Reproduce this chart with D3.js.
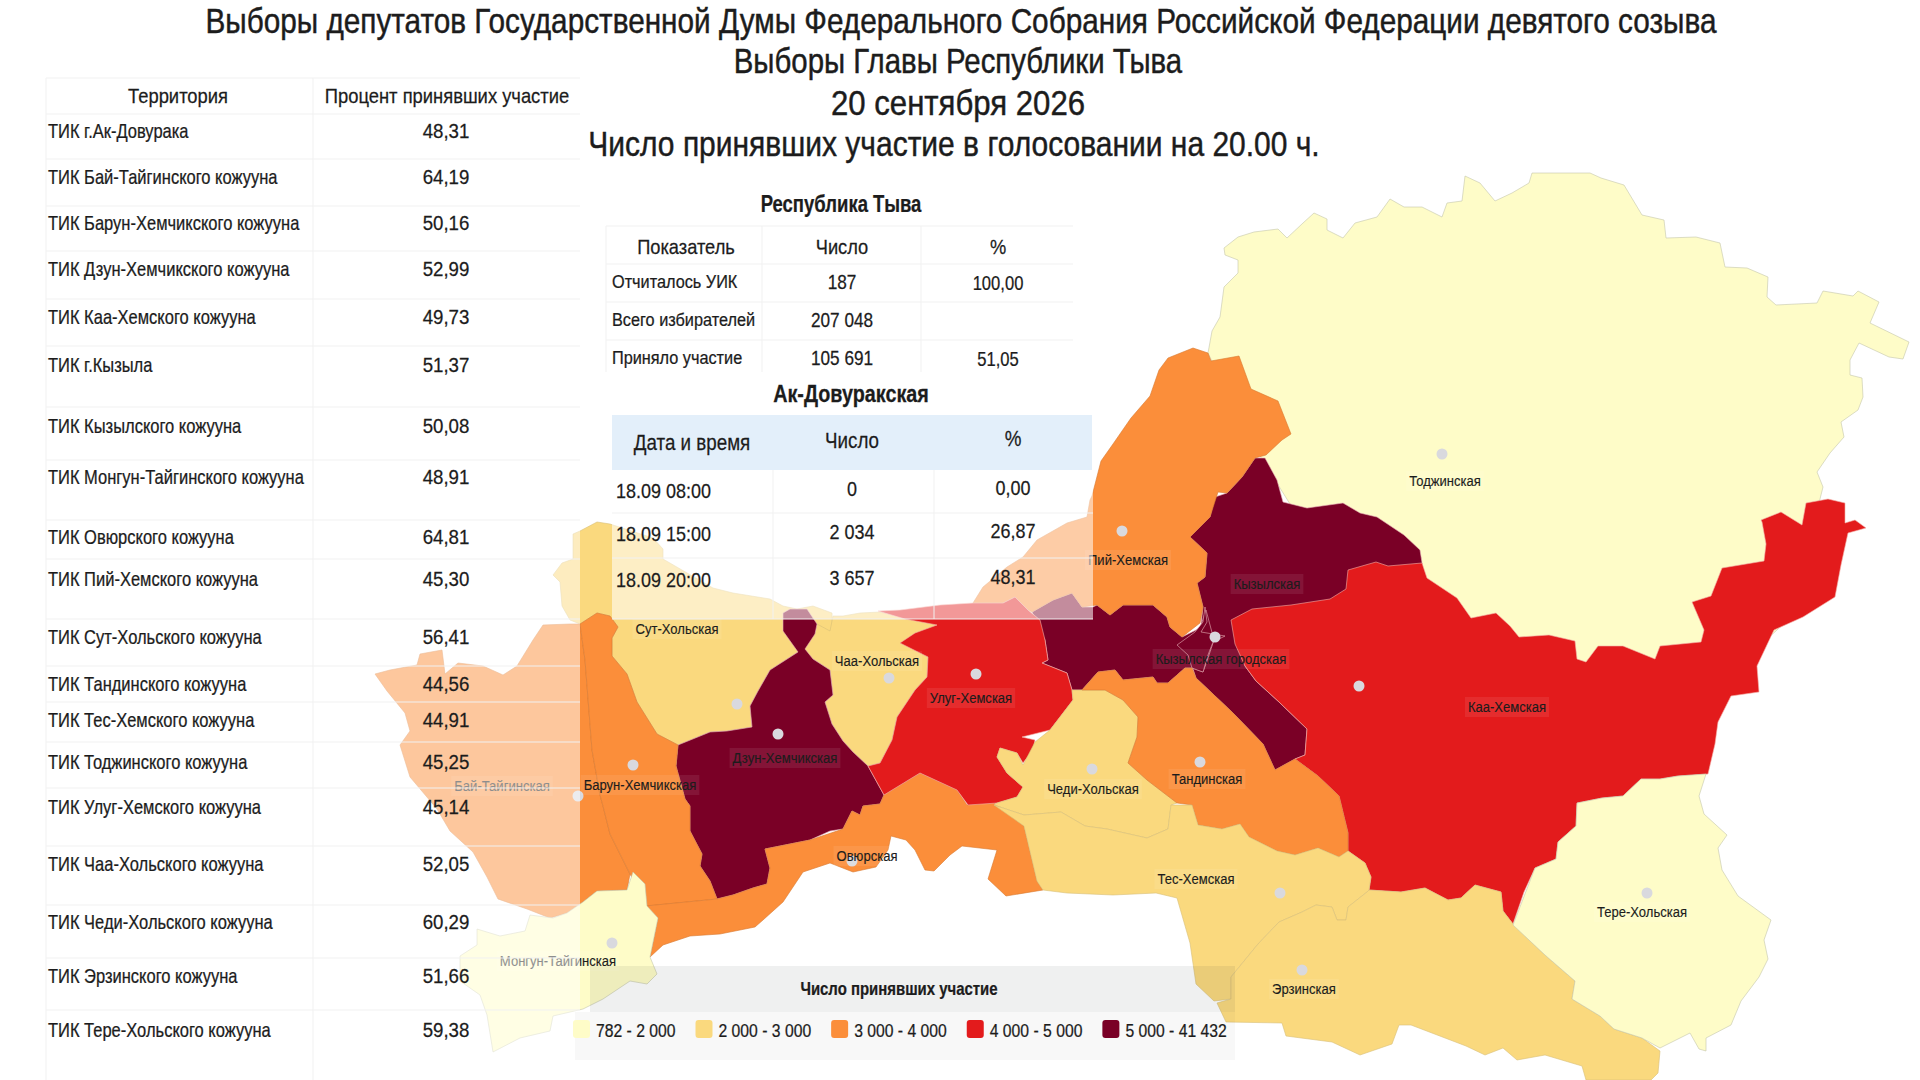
<!DOCTYPE html>
<html lang="ru">
<head>
<meta charset="utf-8">
<title>Выборы Главы Республики Тыва</title>
<script src="https://cdn.jsdelivr.net/npm/d3@7"></script>
<style>
    html, body { margin: 0; padding: 0; background: #fff; }
    svg { display: block; }
    text { font-family: "Liberation Sans", Arial, sans-serif; fill: #1c1c1c; stroke: #1c1c1c; stroke-width: 0.25; }
    .titles text { stroke-width: 0.45; }
    .map text { stroke-width: 0.15; }
</style>
</head>
<body>
<svg id="chart" width="1920" height="1080"></svg>
<script>
// ---- data ----
const titleLines = [
    "Выборы депутатов Государственной Думы Федерального Собрания Российской Федерации девятого созыва",
    "Выборы Главы Республики Тыва",
    "20 сентября 2026",
    "Число принявших участие в голосовании на 20.00 ч."
];

const territories = [
    "ТИК г.Ак-Довурака", "ТИК Бай-Тайгинского кожууна", "ТИК Барун-Хемчикского кожууна",
    "ТИК Дзун-Хемчикского кожууна", "ТИК Каа-Хемского кожууна", "ТИК г.Кызыла",
    "ТИК Кызылского кожууна", "ТИК Монгун-Тайгинского кожууна", "ТИК Овюрского кожууна",
    "ТИК Пий-Хемского кожууна", "ТИК Сут-Хольского кожууна", "ТИК Тандинского кожууна",
    "ТИК Тес-Хемского кожууна", "ТИК Тоджинского кожууна", "ТИК Улуг-Хемского кожууна",
    "ТИК Чаа-Хольского кожууна", "ТИК Чеди-Хольского кожууна", "ТИК Эрзинского кожууна",
    "ТИК Тере-Хольского кожууна"
];
const turnoutPct = [48.31, 64.19, 50.16, 52.99, 49.73, 51.37, 50.08, 48.91, 64.81, 45.30,
    56.41, 44.56, 44.91, 45.25, 45.14, 52.05, 60.29, 51.66, 59.38];

const summaryLabels = ["Отчиталось УИК", "Всего избирателей", "Приняло участие"];
const summaryCounts = [187, 207048, 105691];
const summaryPct = [100, null, 51.05];

const akTimes = ["18.09 08:00", "18.09 15:00", "18.09 20:00"];
const akCounts = [0, 2034, 3657];
const akPct = [0, 26.87, 48.31];

const legendBins = ["782 - 2 000", "2 000 - 3 000", "3 000 - 4 000", "4 000 - 5 000", "5 000 - 41 432"];
const legendColors = ["#fefcc8", "#fad97e", "#fb8e3a", "#e31b1c", "#7a0026"];

// district name and its legend class, in painting order
const districts = ["Тоджинская", "Кызылская", "Каа-Хемская", "Кызылская городская", "г.Кызыл", "Пий-Хемская",
    "Сут-Хольская", "Чаа-Хольская", "Дзун-Хемчикская", "Бай-Тайгинская", "Барун-Хемчикская",
    "Овюрская", "Монгун-Тайгинская", "Улуг-Хемская", "Чеди-Хольская", "Тандинская",
    "Тес-Хемская", "Эрзинская", "Тере-Хольская"];
const districtBins = [0, 4, 3, 4, 4, 2, 1, 1, 4, 2, 2, 2, 0, 3, 1, 2, 1, 1, 0];

// district outlines
const outlines = {
    "Тоджинская": [[1208,353],[1212,331],[1220,317],[1224,287],[1238,273],[1238,260],[1225,255],[1224,248],[1238,237],[1254,232],[1278,229],[1287,238],[1303,223],[1314,213],[1327,219],[1327,230],[1343,238],[1355,223],[1377,217],[1390,199],[1404,207],[1422,207],[1442,217],[1447,203],[1462,201],[1465,176],[1480,183],[1495,201],[1512,193],[1529,183],[1532,173],[1590,173],[1601,178],[1624,185],[1642,215],[1664,220],[1666,238],[1696,237],[1720,243],[1725,267],[1747,268],[1768,277],[1767,297],[1776,305],[1817,303],[1823,291],[1853,296],[1858,291],[1879,302],[1870,323],[1909,342],[1903,359],[1889,357],[1859,343],[1850,360],[1850,375],[1862,378],[1863,397],[1858,410],[1841,422],[1844,437],[1830,453],[1817,472],[1823,487],[1819,503],[1810,600],[1700,700],[1400,640],[1300,520],[1250,440]],
    "Кызылская": [[1255,458],[1265,458],[1277,480],[1283,502],[1307,508],[1343,503],[1360,513],[1377,517],[1404,535],[1420,550],[1424,575],[1360,600],[1330,620],[1240,630],[1245,666],[1256,681],[1279,702],[1307,729],[1305,755],[1295,759],[1275,770],[1263,744],[1233,713],[1196,678],[1190,660],[1200,633],[1203,607],[1197,583],[1205,577],[1207,553],[1190,537],[1210,517],[1215,497],[1227,493],[1242,477]],
    "Каа-Хемская": [[1761,520],[1781,512],[1802,525],[1806,503],[1828,499],[1845,503],[1845,523],[1855,520],[1866,528],[1848,533],[1841,565],[1835,597],[1803,617],[1774,630],[1757,666],[1759,692],[1731,696],[1718,722],[1715,744],[1708,774],[1678,776],[1660,779],[1641,779],[1623,796],[1602,798],[1577,803],[1576,826],[1558,842],[1556,859],[1535,868],[1524,892],[1513,924],[1503,911],[1501,892],[1475,885],[1461,898],[1448,900],[1425,888],[1401,892],[1369,890],[1371,877],[1365,863],[1348,851],[1348,833],[1339,796],[1318,776],[1295,759],[1305,755],[1307,729],[1279,702],[1256,681],[1245,666],[1235,644],[1231,620],[1252,609],[1291,605],[1330,599],[1346,589],[1348,570],[1376,562],[1388,566],[1422,563],[1427,578],[1457,598],[1471,618],[1496,613],[1510,626],[1519,637],[1549,635],[1575,641],[1577,659],[1586,662],[1598,646],[1623,646],[1655,659],[1660,646],[1701,642],[1704,630],[1692,602],[1711,596],[1722,568],[1764,561],[1766,544],[1762,522]],
    "Кызылская городская": [[1032,612],[1053,600],[1072,593],[1082,607],[1093,607],[1097,605],[1110,615],[1123,605],[1153,605],[1167,617],[1170,627],[1182,637],[1200,628],[1206,610],[1214,640],[1208,658],[1203,672],[1192,668],[1185,668],[1168,683],[1157,683],[1153,677],[1123,680],[1115,670],[1098,672],[1082,690],[1072,690],[1067,673],[1042,663],[1048,660],[1045,640],[1040,630]],
    "г.Кызыл": [[1205,607],[1207,622],[1201,632],[1225,636],[1213,642],[1208,655],[1203,672],[1192,668],[1188,655],[1177,645],[1195,632],[1203,622]],
    "Пий-Хемская": [[1168,358],[1193,348],[1208,353],[1211,361],[1239,356],[1251,389],[1278,401],[1291,434],[1282,440],[1266,455],[1255,458],[1242,477],[1227,493],[1218,492],[1210,517],[1190,537],[1207,553],[1205,577],[1197,583],[1203,607],[1200,623],[1182,637],[1170,627],[1167,617],[1153,605],[1123,605],[1110,615],[1097,605],[1082,607],[1072,593],[1053,600],[1032,612],[1028,610],[1015,597],[1003,603],[973,603],[983,587],[1007,567],[1023,557],[1037,540],[1067,523],[1087,517],[1090,500],[1092,496],[1101,461],[1113,444],[1131,418],[1150,396],[1159,370]],
    "Сут-Хольская": [[580,531],[597,522],[610,524],[653,538],[663,549],[663,559],[713,588],[733,593],[770,599],[783,606],[797,609],[813,606],[832,613],[833,640],[817,645],[798,652],[770,670],[758,691],[750,706],[752,727],[727,731],[710,732],[678,745],[657,734],[637,702],[627,674],[612,656],[612,638],[618,627],[610,616],[597,613],[580,624],[570,620],[562,606],[560,582],[553,575],[562,563],[573,559],[573,534]],
    "Чаа-Хольская": [[803,649],[817,624],[830,631],[833,616],[843,616],[860,613],[880,612],[907,618],[937,625],[917,633],[902,643],[928,657],[927,677],[915,690],[897,717],[892,740],[880,763],[868,766],[853,752],[843,741],[832,724],[825,702],[833,695],[830,670],[813,659]],
    "Дзун-Хемчикская": [[783,613],[790,609],[807,609],[817,624],[815,634],[805,649],[813,659],[830,670],[833,695],[825,702],[832,724],[843,741],[853,752],[868,766],[884,795],[880,804],[863,806],[860,815],[852,811],[843,829],[830,831],[810,840],[765,849],[770,868],[767,884],[753,888],[733,895],[717,899],[710,881],[700,866],[702,854],[690,831],[690,806],[685,799],[676,766],[678,745],[710,732],[727,731],[752,727],[750,706],[758,691],[770,670],[798,652],[783,631]],
    "Бай-Тайгинская": [[580,624],[570,624],[543,625],[533,640],[517,666],[503,675],[483,666],[458,663],[445,674],[442,650],[420,654],[417,665],[390,670],[375,674],[387,691],[405,713],[410,731],[400,745],[410,777],[437,809],[450,831],[473,852],[487,877],[498,899],[527,909],[550,918],[567,913],[583,902],[597,891],[627,890],[630,874],[610,834],[603,806],[600,795],[592,750],[585,660]],
    "Барун-Хемчикская": [[580,624],[597,613],[610,616],[618,627],[612,638],[612,656],[627,674],[637,702],[657,734],[678,745],[676,766],[685,799],[690,806],[690,831],[702,854],[700,866],[710,881],[717,899],[647,906],[630,874],[610,834],[603,806],[600,795],[592,750],[585,660]],
    "Овюрская": [[717,899],[733,895],[753,888],[767,884],[770,868],[765,849],[810,840],[843,829],[852,811],[860,815],[863,806],[880,804],[884,795],[920,773],[957,790],[967,805],[993,802],[1024,826],[1037,881],[1043,890],[1006,896],[988,879],[997,850],[962,846],[950,855],[934,871],[925,870],[915,850],[906,840],[891,836],[888,850],[876,867],[853,872],[830,863],[803,872],[783,902],[763,920],[755,927],[720,934],[690,936],[663,945],[650,957],[658,918],[645,906]],
    "Монгун-Тайгинская": [[633,872],[645,884],[647,906],[658,918],[650,957],[657,974],[647,984],[630,981],[603,999],[583,1009],[553,1016],[550,1031],[520,1038],[493,1052],[487,1015],[480,995],[460,981],[460,956],[477,945],[477,929],[500,936],[525,931],[530,915],[553,918],[567,913],[583,902],[597,891],[627,890]],
    "Улуг-Хемская": [[900,643],[915,633],[937,625],[905,619],[878,611],[900,610],[940,605],[973,603],[1003,603],[1015,597],[1028,610],[1040,620],[1045,640],[1048,660],[1042,663],[1067,673],[1072,690],[1073,700],[1060,717],[1050,730],[1022,737],[1035,740],[1033,750],[1023,763],[1017,753],[1000,748],[997,757],[1007,773],[1023,787],[1017,797],[997,803],[968,805],[957,790],[920,773],[884,795],[868,766],[880,763],[892,740],[897,717],[915,690],[927,677],[928,657]],
    "Чеди-Хольская": [[1072,690],[1082,690],[1105,690],[1123,700],[1138,717],[1137,737],[1128,763],[1147,780],[1177,803],[1171,805],[1168,829],[1147,838],[1107,829],[1085,826],[1061,812],[1024,815],[994,805],[997,803],[1017,797],[1023,787],[1007,773],[997,757],[1000,748],[1017,753],[1023,765],[1035,742],[1050,730],[1060,717],[1073,700]],
    "Тандинская": [[1082,690],[1098,672],[1115,670],[1123,680],[1153,677],[1157,683],[1168,683],[1185,668],[1192,668],[1196,678],[1233,713],[1263,744],[1275,770],[1295,759],[1318,776],[1339,796],[1348,833],[1348,851],[1339,857],[1318,848],[1295,855],[1277,851],[1249,837],[1240,824],[1222,829],[1198,825],[1192,805],[1177,803],[1147,780],[1128,763],[1137,737],[1138,717],[1123,700],[1105,690]],
    "Тес-Хемская": [[1024,826],[994,805],[1024,815],[1061,812],[1085,826],[1107,829],[1147,838],[1168,829],[1171,805],[1192,805],[1198,825],[1222,829],[1240,824],[1249,837],[1277,851],[1295,855],[1318,848],[1339,857],[1348,851],[1365,863],[1371,877],[1369,890],[1367,892],[1348,907],[1346,920],[1337,920],[1332,907],[1316,905],[1302,912],[1279,922],[1258,944],[1240,966],[1231,977],[1231,999],[1214,1001],[1196,984],[1190,943],[1177,898],[1156,893],[1113,895],[1067,893],[1043,890],[1037,881]],
    "Эрзинская": [[1367,892],[1369,890],[1401,892],[1425,888],[1448,900],[1461,898],[1475,885],[1501,892],[1503,911],[1513,924],[1545,955],[1575,981],[1572,999],[1600,1016],[1614,1029],[1642,1038],[1660,1051],[1658,1073],[1651,1080],[1586,1080],[1582,1066],[1545,1055],[1517,1060],[1503,1048],[1485,1055],[1466,1046],[1411,1025],[1399,1025],[1392,1044],[1360,1055],[1332,1042],[1286,1036],[1282,1023],[1226,1022],[1217,1003],[1231,999],[1231,977],[1240,966],[1258,944],[1279,922],[1302,912],[1316,905],[1332,907],[1337,920],[1346,920],[1348,907]],
    "Тере-Хольская": [[1513,925],[1535,868],[1556,859],[1558,842],[1576,826],[1577,803],[1602,798],[1623,796],[1641,779],[1660,779],[1678,776],[1706,774],[1699,796],[1704,814],[1727,835],[1718,848],[1722,870],[1738,896],[1771,920],[1764,940],[1768,959],[1759,977],[1741,1001],[1731,1025],[1706,1038],[1706,1051],[1699,1049],[1690,1033],[1660,1048],[1642,1038],[1614,1029],[1600,1016],[1572,999],[1575,981],[1545,955]]
};

// where the district captions and centre dots sit on the map
const captionAt = {
    "Тоджинская": [1445,481], "Пий-Хемская": [1128,560], "Кызылская": [1267,584], "Каа-Хемская": [1507,707],
    "Кызылская городская": [1221,659], "Улуг-Хемская": [971,698], "Чаа-Хольская": [877,661], "Сут-Хольская": [677,629],
    "Дзун-Хемчикская": [785,758], "Барун-Хемчикская": [640,785], "Бай-Тайгинская": [502,786], "Овюрская": [867,856],
    "Чеди-Хольская": [1093,789], "Тандинская": [1207,779], "Тес-Хемская": [1196,879], "Монгун-Тайгинская": [558,961],
    "Эрзинская": [1304,989], "Тере-Хольская": [1642,912]
};
const dotAt = {
    "Тоджинская": [1442,454], "Пий-Хемская": [1122,531], "Кызылская городская": [1215,637], "Каа-Хемская": [1359,686],
    "Улуг-Хемская": [976,674], "Чаа-Хольская": [889,678], "Сут-Хольская": [737,704], "Дзун-Хемчикская": [778,734],
    "Барун-Хемчикская": [633,765], "Бай-Тайгинская": [578,796], "Овюрская": [852,861], "Чеди-Хольская": [1092,769],
    "Тандинская": [1200,762], "Тес-Хемская": [1280,893], "Монгун-Тайгинская": [612,943], "Эрзинская": [1302,970],
    "Тере-Хольская": [1647,893]
};

// ---- table layout ----
const leftRowY = [131,177,223,269,317,365,426,477,537,579,637,684,720,762,807,864,922,976,1030];
const leftLineY = [78,114,159,206,251,299,346,407,460,520,559,619,666,702,742,788,846,905,958,1010];
const summaryRowY = [282,320,358];
const summaryLineY = [226,264,302,340];
const akRowY = [491,534,580];
const akCountY = [489,532,578];
const akPctY = [488,531,577];

const fmtPct = d3.formatLocale({ decimal: ",", thousands: " ", grouping: [3] }).format(",.2f");
const fmtInt = d3.formatLocale({ decimal: ",", thousands: " ", grouping: [3] }).format(",d");
const color = d3.scaleOrdinal(legendBins, legendColors);

const svg = d3.select("#chart");

// squeezed text, the picture was narrowed after it was made
function put(g, x, y, str, size, sx, opts = {}) {
    return g.append("text")
        .attr("transform", `translate(${x},${y}) scale(${sx},1)`)
        .attr("dy", "0.35em")
        .attr("text-anchor", opts.anchor || "middle")
        .attr("font-size", size)
        .attr("font-weight", opts.weight || "normal")
        .text(str);
}

// ---- map ----
const path = d3.geoPath(d3.geoIdentity());
const features = districts.map((name, i) => ({
    type: "Feature",
    properties: { name, bin: legendBins[districtBins[i]] },
    geometry: { type: "Polygon", coordinates: [[...outlines[name], outlines[name][0]]] }
}));

const strokeColors = ["#c4c6ac", "#d9bf78", "#d97a30", "#f4b0a8", "#e8b0b8"];
const map = svg.append("g").attr("class", "map");
map.selectAll("path")
    .data(features)
    .join("path")
    .attr("d", path)
    .attr("fill", d => color(d.properties.bin))
    .attr("stroke", d => strokeColors[legendBins.indexOf(d.properties.bin)])
    .attr("stroke-opacity", 0.6)
    .attr("stroke-width", 1);

map.selectAll("circle")
    .data(districts.filter(n => dotAt[n]))
    .join("circle")
    .attr("cx", n => dotAt[n][0])
    .attr("cy", n => dotAt[n][1])
    .attr("r", 5.5)
    .attr("fill", "#d9d9de");

districts.filter(n => captionAt[n]).forEach(name => {
    const [x, y] = captionAt[name];
    const t = put(map, x, y, name, 15, 0.87);
    const w = t.node().getComputedTextLength() * 0.87;
    map.insert("rect", () => t.node())
        .attr("x", x - w / 2 - 3)
        .attr("y", y - 10)
        .attr("width", w + 6)
        .attr("height", 20)
        .attr("fill", "#fff")
        .attr("opacity", 0.08);
});

// ---- washed panels lying over the map ----
svg.append("rect").attr("x", 46).attr("y", 78).attr("width", 534).attr("height", 1002)
    .attr("fill", "#fff").attr("opacity", 0.5);
svg.append("rect").attr("x", 612).attr("y", 470).attr("width", 481).attr("height", 149)
    .attr("fill", "#fff").attr("opacity", 0.55);
svg.append("rect").attr("x", 612).attr("y", 415).attr("width", 480).attr("height", 55)
    .attr("fill", "#e3effa");
svg.append("rect").attr("x", 590).attr("y", 966).attr("width", 645).attr("height", 46)
    .attr("fill", "#1a2a2a").attr("opacity", 0.07);
svg.append("rect").attr("x", 575).attr("y", 1012).attr("width", 660).attr("height", 48)
    .attr("fill", "#1a2a2a").attr("opacity", 0.03);

// ---- titles ----
const titles = svg.append("g").attr("class", "titles");
const titleX = [961, 958, 958, 954];
const titleY = [21, 61, 103, 144];
const titleSx = [0.85, 0.84, 0.89, 0.857];
titleLines.forEach((t, i) => put(titles, titleX[i], titleY[i], t, 35, titleSx[i]));

// ---- left table ----
const left = svg.append("g");
const gridColor = "#f1f1f1";
left.selectAll("line.row").data(leftLineY).join("line").attr("class", "row")
    .attr("x1", 46).attr("x2", 580).attr("y1", d => d).attr("y2", d => d)
    .attr("stroke", gridColor);
left.append("line").attr("x1", 46).attr("x2", 46).attr("y1", 78).attr("y2", 1080).attr("stroke", gridColor);
left.append("line").attr("x1", 313).attr("x2", 313).attr("y1", 78).attr("y2", 1080).attr("stroke", gridColor);
put(left, 178, 96, "Территория", 21, 0.875);
put(left, 447, 96, "Процент принявших участие", 21, 0.875);
territories.forEach((t, i) => {
    put(left, 48, leftRowY[i], t, 20, 0.825, { anchor: "start" });
    put(left, 446, leftRowY[i], fmtPct(turnoutPct[i]), 21, 0.89);
});

// ---- republic summary ----
const summary = svg.append("g");
put(summary, 841, 204, "Республика Тыва", 23, 0.805, { weight: "bold" });
summary.selectAll("line.row").data(summaryLineY).join("line").attr("class", "row")
    .attr("x1", 606).attr("x2", 1073).attr("y1", d => d).attr("y2", d => d)
    .attr("stroke", gridColor);
[606, 762, 921].forEach(x => summary.append("line")
    .attr("x1", x).attr("x2", x).attr("y1", 226).attr("y2", 372).attr("stroke", gridColor));
put(summary, 686, 247, "Показатель", 21, 0.87);
put(summary, 842, 247, "Число", 21, 0.87);
put(summary, 998, 247, "%", 21, 0.87);
summaryLabels.forEach((t, i) => {
    put(summary, 612, summaryRowY[i], t, 18.5, 0.88, { anchor: "start" });
    put(summary, 842, summaryRowY[i], fmtInt(summaryCounts[i]), 20, 0.86);
    if (summaryPct[i] !== null) put(summary, 998, summaryRowY[i] + 1, fmtPct(summaryPct[i]), 20, 0.83);
});

// ---- Ak-Dovurak table ----
const ak = svg.append("g");
put(ak, 851, 394, "Ак-Довуракская", 23, 0.86, { weight: "bold" });
put(ak, 692, 442, "Дата и время", 22, 0.855);
put(ak, 852, 440, "Число", 22, 0.855);
put(ak, 1013, 438, "%", 22, 0.855);
[513, 558, 619].forEach(y => ak.append("line")
    .attr("x1", 612).attr("x2", 1093).attr("y1", y).attr("y2", y).attr("stroke", gridColor));
[773, 934].forEach(x => ak.append("line")
    .attr("x1", x).attr("x2", x).attr("y1", 470).attr("y2", 619).attr("stroke", gridColor));
akTimes.forEach((t, i) => {
    put(ak, 616, akRowY[i], t, 21, 0.857, { anchor: "start" });
    put(ak, 852, akCountY[i], fmtInt(akCounts[i]), 21, 0.857);
    put(ak, 1013, akPctY[i], fmtPct(akPct[i]), 21, 0.857);
});

// ---- legend ----
const legend = svg.append("g");
put(legend, 899, 989, "Число принявших участие", 18, 0.83, { weight: "bold" });
let cursor = 573;
legendBins.forEach(bin => {
    legend.append("rect")
        .attr("x", cursor).attr("y", 1020).attr("width", 17).attr("height", 18).attr("rx", 3)
        .attr("fill", color(bin));
    const t = put(legend, cursor + 23, 1031, bin, 18.5, 0.85, { anchor: "start" });
    cursor += 23 + t.node().getComputedTextLength() * 0.85 + 20;
});
</script>
</body>
</html>
